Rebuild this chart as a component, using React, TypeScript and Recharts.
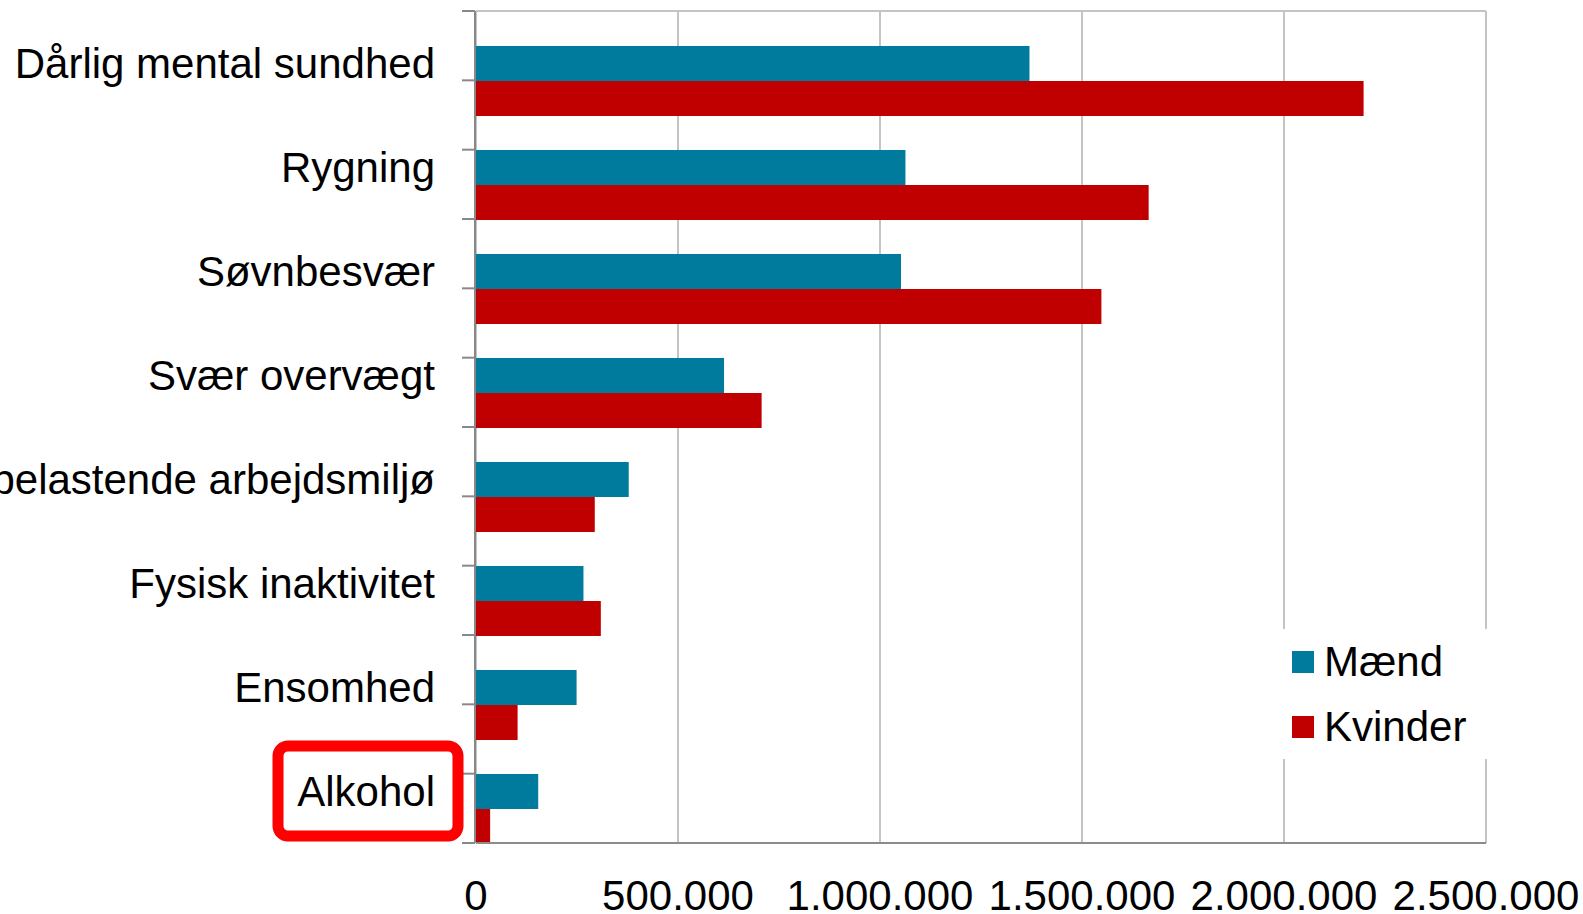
import { BarChart, Bar, XAxis, YAxis, CartesianGrid, Legend } from "recharts";

const categories = [
    "Dårlig mental sundhed",
    "Rygning",
    "Søvnbesvær",
    "Svær overvægt",
    "Psykisk belastende arbejdsmiljø",
    "Fysisk inaktivitet",
    "Ensomhed",
    "Alkohol",
];
const maend = [1370000, 1063000, 1052000, 614000, 378000, 266000, 249000, 154000];
const kvinder = [2197000, 1665000, 1548000, 707000, 294000, 309000, 103000, 35000];
const xTicks = [0, 500000, 1000000, 1500000, 2000000, 2500000];
// Excel draws 12 evenly spaced tick marks on the category axis, not one per category
const TICK_STEPS = 12;
const frameMax = categories.length - 1;
const frameTicks = Array.from({ length: TICK_STEPS + 1 }, (_, k) => (k * frameMax) / TICK_STEPS);
const highlighted = ["Alkohol"];

const FONT = '"Liberation Sans", Arial, sans-serif';
const TEAL = "#007B9E";
const RED = "#C00000";

const series = [
    { key: "maend", name: "Mænd", color: TEAL },
    { key: "kvinder", name: "Kvinder", color: RED },
];

const data = categories.map((name, i) => ({ name, maend: maend[i], kvinder: kvinder[i] }));

const fmt = (v: number) => String(v).replace(/\B(?=(\d{3})+(?!\d))/g, ".");

const NoLabel = () => <g />;

const CategoryTick = (props: any) => {
    const { x, y, payload } = props;
    const hl = highlighted.includes(payload.value);
    return (
        <g>
            {hl && (
                <rect
                    x={x - 157}
                    y={y - 45}
                    width={180}
                    height={90}
                    rx={10}
                    fill="none"
                    stroke="#FF0000"
                    strokeWidth={11}
                />
            )}
            <text x={x} y={y} dy="0.355em" textAnchor="end" fontSize={42} fill="#000" fontFamily={FONT}>
                {payload.value}
            </text>
        </g>
    );
};

// legend drawn in series order (recharts reverses it in vertical layout)
const LegendBox = () => (
    <div style={{ background: "#fff", fontFamily: FONT, fontSize: 42, color: "#000" }}>
        {series.map((s) => (
            <div key={s.key} style={{ display: "flex", alignItems: "center", height: 65, paddingLeft: 17 }}>
                <span style={{ width: 22, height: 22, background: s.color, marginRight: 10, display: "inline-block" }} />
                <span style={{ lineHeight: "65px" }}>{s.name}</span>
            </div>
        ))}
    </div>
);

export default function App() {
    return (
        <div style={{ position: "absolute", left: 0, top: 0, width: 1583, height: 914, background: "#fff" }}>
            <BarChart
                width={1583}
                height={914}
                data={data}
                layout="vertical"
                margin={{ top: 10, right: 97, bottom: 0, left: 0 }}
                barCategoryGap={0}
                barGap={0}
                style={{ fontFamily: FONT }}
            >
                <CartesianGrid horizontal={false} stroke="#c4c4c4" strokeWidth={2} />
                <XAxis
                    type="number"
                    domain={[0, 2500000]}
                    ticks={xTicks}
                    tickFormatter={fmt}
                    tick={{ fontSize: 42, fill: "#000", fontFamily: FONT }}
                    tickLine={false}
                    tickSize={0}
                    tickMargin={37}
                    height={71}
                    axisLine={{ stroke: "#8c8c8c", strokeWidth: 2 }}
                    interval={0}
                />
                {/* thin top axis only to draw the plot's top border */}
                <XAxis
                    xAxisId="top"
                    orientation="top"
                    type="number"
                    domain={[0, 2500000]}
                    allowDataOverflow
                    ticks={xTicks}
                    tick={false}
                    tickLine={false}
                    height={1}
                    axisLine={{ stroke: "#c4c4c4", strokeWidth: 2 }}
                />
                {/* category axis sits next to the plot; its labels overflow to the left */}
                <YAxis
                    type="category"
                    dataKey="name"
                    width={1}
                    tickSize={0}
                    tickMargin={41}
                    tickLine={false}
                    axisLine={false}
                    interval={0}
                    tick={<CategoryTick />}
                />
                {/* outer axis that carries the axis line and its 12 tick marks */}
                <YAxis
                    yAxisId="frame"
                    type="number"
                    domain={[0, frameMax]}
                    allowDataOverflow
                    ticks={frameTicks}
                    tick={<NoLabel />}
                    tickSize={13}
                    width={475}
                    interval={0}
                    tickLine={{ stroke: "#888", strokeWidth: 2 }}
                    axisLine={{ stroke: "#888", strokeWidth: 2 }}
                />
                <Legend
                    layout="vertical"
                    align="center"
                    verticalAlign="middle"
                    content={<LegendBox />}
                    wrapperStyle={{ left: 1275, top: 629, width: 225 }}
                />
                <Bar dataKey="spacer" legendType="none" fill="none" isAnimationActive={false} />
                {series.map((s) => (
                    <Bar key={s.key} dataKey={s.key} name={s.name} fill={s.color} isAnimationActive={false} />
                ))}
            </BarChart>
        </div>
    );
}
